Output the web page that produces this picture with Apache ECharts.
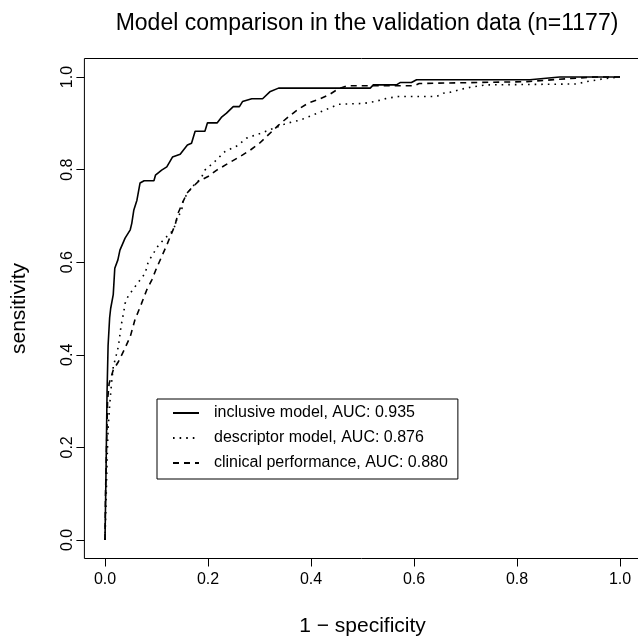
<!DOCTYPE html>
<html>
<head>
<meta charset="utf-8">
<script src="https://cdn.jsdelivr.net/npm/echarts@6/dist/echarts.min.js"></script>
<style>html,body{margin:0;padding:0;background:#fff}#c{width:638px;height:636px}</style>
</head>
<body>
<div id="c"></div>
<script>
// ---- data ----
var tickValues = [0, 0.2, 0.4, 0.6, 0.8, 1.0];
var tickLabels = ['0.0', '0.2', '0.4', '0.6', '0.8', '1.0'];

var seriesNames = [
  'inclusive model, AUC: 0.935',
  'descriptor model, AUC: 0.876',
  'clinical performance, AUC: 0.880'
];

var inclusiveFpr = [0, 0.002, 0.004, 0.006, 0.009, 0.011, 0.016, 0.019, 0.025, 0.029, 0.039, 0.049, 0.052, 0.056, 0.062, 0.068, 0.076, 0.095, 0.098, 0.110, 0.120, 0.131, 0.146, 0.152, 0.160, 0.168, 0.175, 0.194, 0.199, 0.218, 0.227, 0.236, 0.249, 0.261, 0.267, 0.285, 0.306, 0.320, 0.337, 0.515, 0.521, 0.566, 0.573, 0.595, 0.605, 0.825, 0.883, 1.0];
var inclusiveTpr = [0, 0.15, 0.32, 0.42, 0.48, 0.50, 0.53, 0.587, 0.605, 0.626, 0.652, 0.67, 0.684, 0.713, 0.734, 0.771, 0.776, 0.776, 0.788, 0.799, 0.806, 0.827, 0.833, 0.842, 0.853, 0.857, 0.883, 0.883, 0.901, 0.901, 0.914, 0.922, 0.936, 0.936, 0.947, 0.953, 0.953, 0.968, 0.976, 0.976, 0.983, 0.983, 0.988, 0.988, 0.994, 0.994, 1.0, 1.0];

var descriptorFpr = [0, 0.002, 0.004, 0.006, 0.009, 0.012, 0.016, 0.022, 0.026, 0.031, 0.036, 0.039, 0.045, 0.061, 0.078, 0.084, 0.094, 0.104, 0.117, 0.133, 0.139, 0.149, 0.152, 0.162, 0.175, 0.186, 0.194, 0.21, 0.233, 0.256, 0.275, 0.301, 0.327, 0.353, 0.379, 0.404, 0.43, 0.453, 0.502, 0.524, 0.547, 0.57, 0.644, 0.657, 0.67, 0.693, 0.715, 0.741, 0.916, 0.935, 0.967, 1.0];
var descriptorTpr = [0, 0.08, 0.17, 0.24, 0.29, 0.33, 0.374, 0.40, 0.418, 0.461, 0.49, 0.511, 0.527, 0.551, 0.576, 0.601, 0.619, 0.637, 0.652, 0.67, 0.691, 0.713, 0.734, 0.752, 0.77, 0.78, 0.799, 0.814, 0.839, 0.851, 0.868, 0.878, 0.889, 0.9, 0.907, 0.918, 0.93, 0.941, 0.943, 0.947, 0.954, 0.958, 0.958, 0.965, 0.967, 0.974, 0.979, 0.983, 0.985, 0.99, 0.996, 1.0];

var clinicalFpr = [0, 0.001, 0.003, 0.005, 0.008, 0.016, 0.026, 0.037, 0.049, 0.058, 0.071, 0.081, 0.091, 0.1, 0.11, 0.12, 0.128, 0.136, 0.142, 0.15, 0.159, 0.168, 0.181, 0.2, 0.217, 0.24, 0.262, 0.282, 0.3, 0.317, 0.337, 0.356, 0.375, 0.395, 0.411, 0.434, 0.454, 0.47, 0.6, 0.61, 0.82, 0.88, 0.95, 1.0];
var clinicalTpr = [0, 0.1, 0.2, 0.302, 0.338, 0.367, 0.385, 0.41, 0.439, 0.475, 0.511, 0.54, 0.562, 0.587, 0.612, 0.637, 0.659, 0.68, 0.706, 0.727, 0.749, 0.76, 0.774, 0.785, 0.799, 0.814, 0.828, 0.842, 0.857, 0.875, 0.896, 0.914, 0.93, 0.944, 0.95, 0.961, 0.975, 0.981, 0.981, 0.986, 0.99, 0.995, 1.0, 1.0];

function pairs(xs, ys) { return xs.map(function (x, i) { return [x, ys[i]]; }); }

var FONT = '"Liberation Sans", Arial, Helvetica, sans-serif';

function tickFmt(v) {
  for (var i = 0; i < tickValues.length; i++) {
    if (Math.abs(tickValues[i] - v) < 1e-9) return tickLabels[i];
  }
  return '';
}

var chart = echarts.init(document.getElementById('c'), null, { renderer: 'canvas' });
chart.setOption({
  animation: false,
  backgroundColor: '#ffffff',
  title: {
    text: 'Model comparison in the validation data (n=1177)',
    left: 362, textAlign: 'center', top: 7,
    textStyle: { fontFamily: FONT, fontSize: 23, fontWeight: 'normal', color: '#000' }
  },
  grid: {
    left: 84.4, top: 58.5, width: 556.2, height: 500,
    outerBoundsMode: 'none', containLabel: false,
    show: true, borderColor: '#000', borderWidth: 1, backgroundColor: 'transparent'
  },
  legend: {
    orient: 'vertical', left: 157, top: 399,
    data: seriesNames,
    borderColor: '#000', borderWidth: 1, padding: [6, 10, 8, 15],
    itemWidth: 26, itemHeight: 14, itemGap: 9,
    itemStyle: { opacity: 0 },
    textStyle: { fontFamily: FONT, fontSize: 16, color: '#000', padding: [0, 0, 0, 10] }
  },
  xAxis: {
    type: 'value', min: -0.04, max: 1.04,
    name: '1 \u2212 specificity', nameLocation: 'middle', nameGap: 57,
    nameTextStyle: { fontFamily: FONT, fontSize: 21, color: '#000' },
    axisLine: { show: false, onZero: false },
    splitLine: { show: false },
    axisTick: { show: true, customValues: tickValues, length: 8, lineStyle: { color: '#000' } },
    axisLabel: {
      customValues: tickValues, margin: 13, formatter: tickFmt,
      fontFamily: FONT, fontSize: 16, color: '#000'
    }
  },
  yAxis: {
    type: 'value', min: -0.04, max: 1.04,
    name: 'sensitivity', nameLocation: 'middle', nameGap: 55,
    nameTextStyle: { fontFamily: FONT, fontSize: 21, color: '#000' },
    axisLine: { show: false, onZero: false },
    splitLine: { show: false },
    axisTick: { show: true, customValues: tickValues, length: 8, lineStyle: { color: '#000' } },
    axisLabel: {
      customValues: tickValues, margin: 9, rotate: 90, formatter: tickFmt,
      fontFamily: FONT, fontSize: 16, color: '#000'
    }
  },
  series: [
    { name: seriesNames[0], type: 'line', data: pairs(inclusiveFpr, inclusiveTpr), symbol: 'none',
      lineStyle: { color: '#000', width: 1.6, type: 'solid' }, itemStyle: { color: '#000' } },
    { name: seriesNames[1], type: 'line', data: pairs(descriptorFpr, descriptorTpr), symbol: 'none',
      lineStyle: { color: '#000', width: 1.6, type: [1.6, 5] }, itemStyle: { color: '#000' } },
    { name: seriesNames[2], type: 'line', data: pairs(clinicalFpr, clinicalTpr), symbol: 'none',
      lineStyle: { color: '#000', width: 1.6, type: [6, 5] }, itemStyle: { color: '#000' } }
  ]
});
</script>
</body>
</html>
